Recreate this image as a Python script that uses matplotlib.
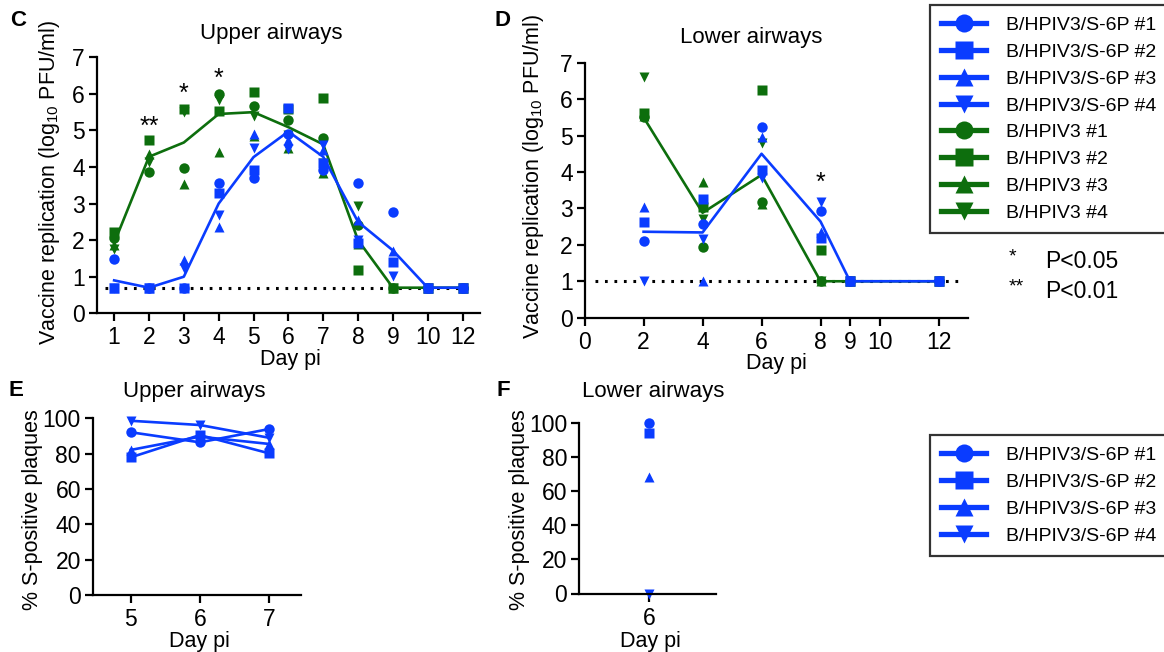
import matplotlib
matplotlib.use("Agg")
import matplotlib.pyplot as plt
from matplotlib.lines import Line2D

plt.rcParams["font.family"] = ["Liberation Sans", "DejaVu Sans"]
plt.rcParams["mathtext.default"] = "regular"

BLUE = "#0a3cff"
GREEN = "#0d6e0d"
MARKERS = ["o", "s", "^", "v"]

# ---- Panel C: upper airways, log10 PFU/ml ----
c_days = ["1", "2", "3", "4", "5", "6", "7", "8", "9", "10", "12"]
c_s6p_1 = [1.48, 0.7, 0.7, 3.57, 3.69, 4.90, 3.92, 3.57, 2.77, 0.7, 0.7]
c_s6p_2 = [0.7, 0.7, 0.7, 3.28, 3.92, 5.62, 4.10, 1.91, 1.41, 0.7, 0.7]
c_s6p_3 = [0.7, 0.7, 1.46, 2.37, 4.90, 4.75, 4.47, 2.55, 1.69, 0.7, 0.7]
c_s6p_4 = [0.7, 0.7, 1.23, 2.69, 4.51, 4.50, 4.60, 2.00, 1.02, 0.7, 0.7]
c_s6p_line = [0.9, 0.7, 1.0, 3.0, 4.27, 4.97, 4.28, 2.5, 1.72, 0.7, 0.7]
c_wt_1 = [2.05, 3.87, 3.98, 5.99, 5.68, 5.29, 4.79, 2.41, 0.7, 0.7, 0.7]
c_wt_2 = [2.22, 4.74, 5.59, 5.54, 6.06, 5.60, 5.88, 1.18, 0.7, 0.7, 0.7]
c_wt_3 = [1.88, 4.35, 3.53, 4.42, 4.86, 4.53, 3.83, 1.90, 0.7, 0.7, 0.7]
c_wt_4 = [1.75, 4.15, 5.50, 5.83, 5.40, 4.87, 4.10, 2.93, 0.7, 0.7, 0.7]
c_wt_line = [1.92, 4.28, 4.67, 5.45, 5.5, 5.09, 4.62, 2.0, 0.7, 0.7, 0.7]
c_lod = 0.7
c_stars = ["", "**", "*", "*", "", "", "", "", "", "", ""]
c_star_y = [0, 5.1, 6.0, 6.4, 0, 0, 0, 0, 0, 0, 0]

# ---- Panel D: lower airways, log10 PFU/ml ----
d_days = [2, 4, 6, 8, 9, 12]
d_ticks = [0, 2, 4, 6, 8, 9, 10, 12]
d_s6p_1 = [2.11, 2.57, 5.24, 2.93, 1.0, 1.0]
d_s6p_2 = [2.63, 3.25, 4.06, 2.18, 1.0, 1.0]
d_s6p_3 = [3.05, 1.0, 4.95, 2.36, 1.0, 1.0]
d_s6p_4 = [1.0, 2.15, 3.83, 3.18, 1.0, 1.0]
d_s6p_line = [2.36, 2.34, 4.5, 2.64, 1.0, 1.0]
d_wt_1 = [5.50, 1.95, 3.18, 1.0, 1.0, 1.0]
d_wt_2 = [5.61, 3.05, 6.25, 1.85, 1.0, 1.0]
d_wt_3 = [5.55, 3.73, 3.12, 1.0, 1.0, 1.0]
d_wt_4 = [6.61, 2.70, 4.79, 1.0, 1.0, 1.0]
d_wt_line = [5.5, 2.88, 3.92, 1.0, 1.0, 1.0]
d_lod = 1.0
d_star_day, d_star_y = 8, 3.7

# ---- Panel E/F: % S-positive plaques ----
e_days = [5, 6, 7]
e_1 = [92.1, 86.4, 93.9]
e_2 = [77.9, 90.5, 80.2]
e_3 = [82.1, 89.6, 85.5]
e_4 = [98.6, 96.2, 89.0]
f_days = [6]
f_1 = [100.0]
f_2 = [94.1]
f_3 = [68.6]
f_4 = [0.0]

s6p_labels = ["B/HPIV3/S-6P #1", "B/HPIV3/S-6P #2", "B/HPIV3/S-6P #3", "B/HPIV3/S-6P #4"]
wt_labels = ["B/HPIV3 #1", "B/HPIV3 #2", "B/HPIV3 #3", "B/HPIV3 #4"]

W, H = 1164, 652
fig = plt.figure(figsize=(W / 100, H / 100), dpi=100)


def px_axes(left, right, bottom, top):
    return fig.add_axes([left / W, 1 - bottom / H, (right - left) / W, (bottom - top) / H])


def style(ax):
    for s in ["top", "right"]:
        ax.spines[s].set_visible(False)
    for s in ["left", "bottom"]:
        ax.spines[s].set_linewidth(1.6)
    ax.tick_params(direction="out", length=5.5, width=1.6, labelsize=16.5, pad=3)
    ax.tick_params(axis="x", pad=4)


def ftext(x, y, s, **kw):
    fig.text(x / W, 1 - y / H, s, ha=kw.pop("ha", "center"), va=kw.pop("va", "center"), **kw)


ms = 7.5

# Panel C
axc = px_axes(96.7, 480, 313.3, 57.3)
xc = list(range(len(c_days)))
for vals, m in zip([c_wt_1, c_wt_2, c_wt_3, c_wt_4], MARKERS):
    axc.plot(xc, vals, ls="none", marker=m, ms=ms, color=GREEN, mec="none", clip_on=False)
axc.plot(xc, c_wt_line, color=GREEN, lw=1.9)
for vals, m in zip([c_s6p_1, c_s6p_2, c_s6p_3, c_s6p_4], MARKERS):
    axc.plot(xc, vals, ls="none", marker=m, ms=ms, color=BLUE, mec="none", clip_on=False)
axc.plot(xc, c_s6p_line, color=BLUE, lw=1.9)
axc.plot([-0.25, 10.3], [c_lod, c_lod], color="black", lw=2.2, ls=(0, (0.9, 2.2)), zorder=1)
for x, s, y in zip(xc, c_stars, c_star_y):
    if s:
        axc.text(x, y, s, ha="center", va="center", fontsize=18)
axc.set_xlim(-0.5, 10.5)
axc.set_ylim(0, 7)
axc.set_xticks(xc)
axc.set_xticklabels(c_days)
axc.set_yticks(range(8))
style(axc)

# Panel D
axd = px_axes(584.6, 968, 317.7, 62.7)
for vals, m in zip([d_wt_1, d_wt_2, d_wt_3, d_wt_4], MARKERS):
    axd.plot(d_days, vals, ls="none", marker=m, ms=ms, color=GREEN, mec="none", clip_on=False)
axd.plot(d_days, d_wt_line, color=GREEN, lw=1.9)
for vals, m in zip([d_s6p_1, d_s6p_2, d_s6p_3, d_s6p_4], MARKERS):
    axd.plot(d_days, vals, ls="none", marker=m, ms=ms, color=BLUE, mec="none", clip_on=False)
axd.plot(d_days, d_s6p_line, color=BLUE, lw=1.9)
axd.plot([0.35, 12.85], [d_lod, d_lod], color="black", lw=2.2, ls=(0, (0.9, 2.2)), zorder=1)
axd.text(d_star_day, d_star_y, "*", ha="center", va="center", fontsize=18)
axd.set_xlim(0, 13)
axd.set_ylim(0, 7)
axd.set_xticks(d_ticks)
axd.set_yticks(range(8))
style(axd)

# Panel E
axe = px_axes(92.8, 300.7, 595, 418.3)
for vals, m in zip([e_1, e_2, e_3, e_4], MARKERS):
    axe.plot(e_days, vals, marker=m, ms=ms, color=BLUE, mec="none", lw=1.9, clip_on=False)
axe.set_xlim(4.45, 7.46)
axe.set_ylim(0, 100)
axe.set_xticks(e_days)
axe.set_yticks(range(0, 101, 20))
style(axe)

# Panel F
axf = px_axes(579, 716.4, 593.5, 423.3)
for vals, m in zip([f_1, f_2, f_3, f_4], MARKERS):
    axf.plot(f_days, vals, ls="none", marker=m, ms=ms, color=BLUE, mec="none", clip_on=False)
axf.set_xlim(5, 6.95)
axf.set_ylim(0, 100)
axf.set_xticks(f_days)
axf.set_yticks(range(0, 101, 20))
style(axf)

# titles, panel letters, axis labels
ftext(18, 20, "C", fontsize=16, fontweight="bold")
ftext(503, 20, "D", fontsize=16, fontweight="bold")
ftext(16, 390, "E", fontsize=16, fontweight="bold")
ftext(503, 390, "F", fontsize=16, fontweight="bold")
ftext(271.7, 33, "Upper airways", fontsize=16)
ftext(751, 37, "Lower airways", fontsize=16)
ftext(194.5, 392, "Upper airways", fontsize=16)
ftext(653, 392, "Lower airways", fontsize=16)
ylab = "Vaccine replication (log$_{10}$ PFU/ml)"
ftext(50, 182, ylab, fontsize=15.5, rotation=90)
ftext(533, 176, ylab, fontsize=15.5, rotation=90)
ftext(33, 510, "% S-positive plaques", fontsize=15.5, rotation=90)
ftext(519, 510, "% S-positive plaques", fontsize=15.5, rotation=90)
ftext(290, 360, "Day pi", fontsize=15.5)
ftext(776, 363, "Day pi", fontsize=15.5)
ftext(199, 642, "Day pi", fontsize=15.5)
ftext(650, 642, "Day pi", fontsize=15.5)

# p-value key
ftext(1012, 257, "*", fontsize=14)
ftext(1045, 262, "P<0.05", fontsize=16.5, ha="left")
ftext(1016, 287, "**", fontsize=14)
ftext(1045, 291, "P<0.01", fontsize=16.5, ha="left")


def handles(color, labels):
    return [Line2D([], [], color=color, lw=3.8, marker=m, ms=13, mec="none", label=l)
            for m, l in zip(MARKERS, labels)]


leg_kw = dict(loc="upper left", fontsize=14, frameon=True, fancybox=False,
              handlelength=2.3, handletextpad=1.05, labelspacing=0.47, borderpad=0.6,
              borderaxespad=0)
leg1 = fig.legend(handles=handles(BLUE, s6p_labels) + handles(GREEN, wt_labels),
                  bbox_to_anchor=(929.5 / W, 1 - 5 / H), **leg_kw)
leg2 = fig.legend(handles=handles(BLUE, s6p_labels),
                  bbox_to_anchor=(929.5 / W, 1 - 435 / H), **leg_kw)
for leg in (leg1, leg2):
    leg.get_frame().set_edgecolor("black")
    leg.get_frame().set_linewidth(1.6)

fig.savefig("out.png", dpi=100)
